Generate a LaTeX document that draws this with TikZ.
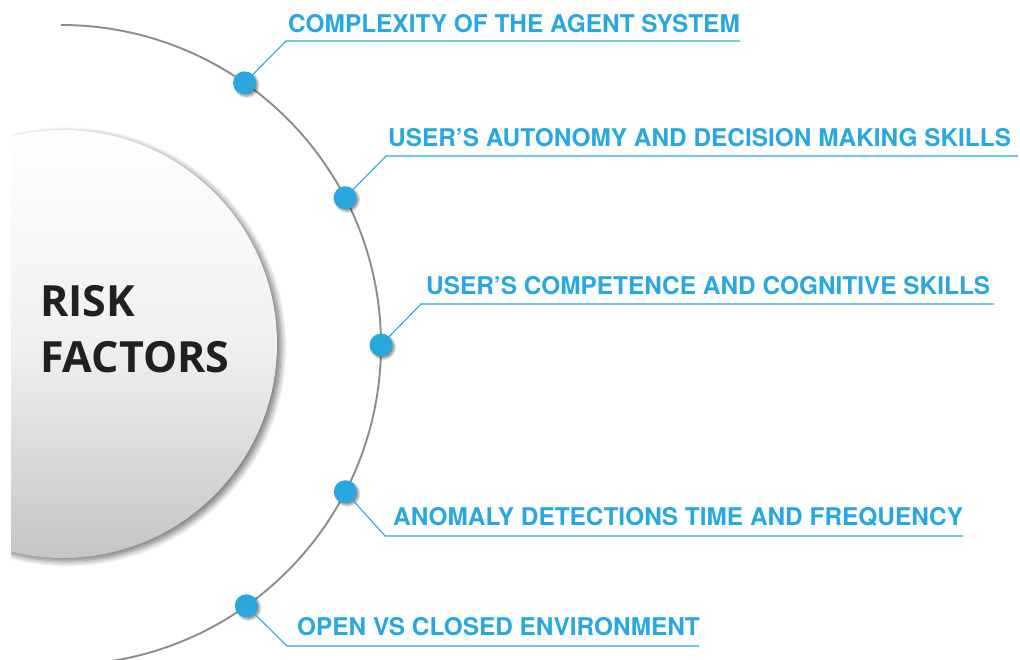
\documentclass[tikz,border=0pt]{standalone}
\usepackage{fontspec}
\setmainfont{TeX Gyre Heros}
\newfontfamily\titlefont{Open Sans}
\usetikzlibrary{calc,shadows.blur}
\definecolor{rfblue}{HTML}{29A8E0}
\definecolor{rfgray}{HTML}{8C8C8C}
\definecolor{rfdark}{HTML}{231F20}
\definecolor{rfmid}{HTML}{EFF0F0}
\definecolor{rfbottom}{HTML}{C4C5C6}
\tikzset{
  ring/.style={draw=rfgray, line width=1.9pt},
  dotnode/.style={circle, fill=rfblue, minimum size=23pt, inner sep=0pt,
    blur shadow={shadow xshift=2pt, shadow yshift=-2pt, shadow blur steps=6, shadow opacity=45}},
  leader/.style={draw=rfblue, line width=1.1pt},
  label/.style={anchor=base west, inner sep=0pt, text=rfblue,
    font=\fontsize{24.4}{28}\selectfont\bfseries},
  core/.style={circle, minimum size=428pt, inner sep=0pt,
    top color=white, bottom color=rfbottom, middle color=rfmid,
    blur shadow={shadow xshift=4pt, shadow yshift=-3pt, shadow blur steps=10, shadow opacity=55, shadow blur radius=6pt}},
}
\begin{document}
\begin{tikzpicture}[x=1pt,y=1pt]
\useasboundingbox (0,0) rectangle (1020,659);
\coordinate (c) at (61,314);
% inner circle
\begin{scope}
  \clip (11,0) rectangle (400,659);
  \node[core] (core) at (63,315) {};
\end{scope}
\node[anchor=base west, inner sep=0pt, text=rfdark, align=left,
  font=\titlefont\fontsize{43}{56}\selectfont\bfseries] (title) at (40,286) {RISK\\FACTORS};
% ring
\draw[ring] (61,634) arc[start angle=90, end angle=-90, radius=320];
% dots
\node[dotnode] (d1) at ($(c)+(55:320)$) {};
\node[dotnode] (d2) at ($(c)+(27.4:320)$) {};
\node[dotnode] (d3) at ($(c)+(0:320)$) {};
\node[dotnode] (d4) at ($(c)+(-27.3:320)$) {};
\node[dotnode] (d5) at ($(c)+(-54.6:320)$) {};
% labels
\node[label] (l1) at (288,626) {COMPLEXITY OF THE AGENT SYSTEM};
\node[label] (l2) at (388,512) {USER’S AUTONOMY AND DECISION MAKING SKILLS};
\node[label] (l3) at (426,364) {USER’S COMPETENCE AND COGNITIVE SKILLS};
\node[label] (l4) at (393,134) {ANOMALY DETECTIONS TIME AND FREQUENCY};
\node[label] (l5) at (297,24) {OPEN VS CLOSED ENVIRONMENT};
% leaders
\coordinate (k1) at (286,618); \coordinate (e1) at (740,618);
\coordinate (k2) at (386,503); \coordinate (e2) at (1018,503);
\coordinate (k3) at (421,355); \coordinate (e3) at (994,355);
\coordinate (k4) at (385,123); \coordinate (e4) at (963,123);
\coordinate (k5) at (287,13);  \coordinate (e5) at (699,13);
\draw[leader] (d1) -- (k1) -- (e1);
\draw[leader] (d2) -- (k2) -- (e2);
\draw[leader] (d3) -- (k3) -- (e3);
\draw[leader] (d4) -- (k4) -- (e4);
\draw[leader] (d5) -- (k5) -- (e5);
\end{tikzpicture}
\end{document}
